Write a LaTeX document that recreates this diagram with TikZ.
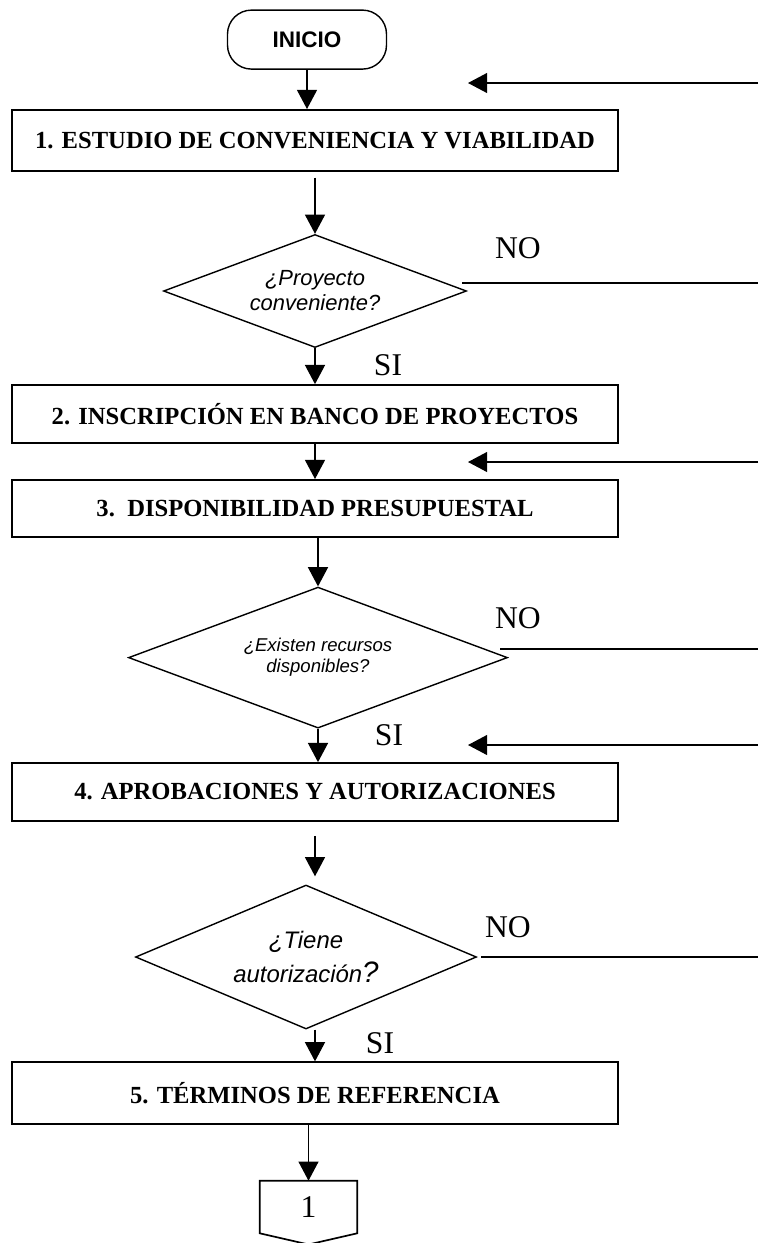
\documentclass[tikz,border=0pt]{standalone}
\usepackage{fontspec}
\setmainfont{Liberation Serif}
\setsansfont{Liberation Sans}
\usetikzlibrary{arrows.meta}
\usetikzlibrary{shapes.geometric}

\tikzset{
  paso/.style={draw, line width=1.2pt, minimum width=15.15cm, inner sep=0pt, font=\fontsize{17.5}{20}\selectfont\bfseries},
  decision/.style={draw, diamond, line width=1pt, inner sep=0pt, align=center},
  flecha/.style={line width=1pt, -{Triangle[length=0.48cm,width=0.5cm]}},
  rama/.style={font=\fontsize{22.5}{26}\selectfont},
}

\begin{document}
\begin{tikzpicture}
\useasboundingbox (0,0) rectangle (18.95,-31.075);

\node[draw, line width=1pt, rounded corners=0.6cm, minimum width=3.975cm, minimum height=1.475cm, font=\sffamily\bfseries\fontsize{16}{19}\selectfont] (inicio) at (7.675,-0.99) {INICIO};

\node[paso, minimum height=1.525cm] (b1) at (7.875,-3.51) {1. ESTUDIO DE CONVENIENCIA Y VIABILIDAD};
\node[paso, minimum height=1.45cm] (b2) at (7.875,-10.35) {2. INSCRIPCIÓN EN BANCO DE PROYECTOS};
\node[paso, minimum height=1.425cm] (b3) at (7.875,-12.71) {3.\ \ DISPONIBILIDAD PRESUPUESTAL};
\node[paso, minimum height=1.45cm] (b4) at (7.875,-19.8) {4. APROBACIONES Y AUTORIZACIONES};
\node[paso, minimum height=1.55cm] (b5) at (7.875,-27.33) {5. TÉRMINOS DE REFERENCIA};

\node[decision, aspect=2.68, minimum width=7.575cm, minimum height=2.825cm, font=\sffamily\itshape\fontsize{15.6}{17.8}\selectfont] (d1) at (7.875,-7.275) {¿Proyecto\\conveniente?};
\node[decision, aspect=2.69, minimum width=9.475cm, minimum height=3.525cm, font=\sffamily\itshape\fontsize{13.2}{15}\selectfont] (d2) at (7.95,-16.44) {¿Existen recursos\\disponibles?};
\node[decision, aspect=2.37, minimum width=8.525cm, minimum height=3.6cm, font=\sffamily\itshape\fontsize{17}{24}\selectfont] (d3) at (7.65,-23.925) {¿Tiene\\autorización{\fontsize{21}{24}\selectfont ?}};

\node[rama] (no1) at (12.95,-6.2) {NO};
\node[rama] (no2) at (12.95,-15.45) {NO};
\node[rama] (no3) at (12.7,-23.175) {NO};
\node[rama] (si1) at (9.7,-9.125) {SI};
\node[rama] (si2) at (9.725,-18.375) {SI};
\node[rama] (si3) at (9.5,-26.075) {SI};

% conector de pagina
\node[minimum width=2.425cm, minimum height=1.3cm, inner sep=0pt, font=\fontsize{22.5}{26}\selectfont] (con) at (7.7125,-30.175) {1};
\draw[line width=1.2pt] (con.south west) -- (con.north west) -- (con.north east) -- (con.south east) -- ([yshift=-0.28cm]con.south) -- cycle;

% flujo principal
\draw[flecha] (inicio.south) -- (inicio.south |- b1.north);
\draw[flecha, shorten <=0.15cm] (b1.south) -- (d1.north);
\draw[flecha] (d1.south) -- (b2.north);
\draw[flecha] (b2.south) -- (b3.north);
\draw[flecha] (d2.north |- b3.south) -- (d2.north);
\draw[flecha] (d2.south) -- (d2.south |- b4.north);
\draw[flecha, shorten <=0.35cm, shorten >=0.2cm] (b4.south) -- (b4.south |- d3.north);
\draw[flecha] (d3.south -| b5.north) -- (b5.north);
\draw[flecha] (b5.south -| con.north) -- (con.north);

% retornos
\coordinate (r1) at (18.95,-2.075);
\coordinate (r2) at (18.95,-11.55);
\coordinate (r3) at (18.95,-18.625);
\coordinate (t1) at (11.7,-2.075);
\coordinate (t2) at (11.7,-11.55);
\coordinate (t3) at (11.7,-18.625);
\draw[flecha] (r1) -- (t1);
\draw[flecha] (r2) -- (t2);
\draw[flecha] (r3) -- (t3);

\coordinate (n1) at (11.55,-7.075);
\coordinate (n2) at (12.5,-16.225);
\coordinate (n3) at (12.025,-23.925);
\draw[line width=1pt] (n1) -- (n1 -| r1);
\draw[line width=1pt] (n2) -- (n2 -| r1);
\draw[line width=1pt] (n3) -- (n3 -| r1);
\end{tikzpicture}
\end{document}
